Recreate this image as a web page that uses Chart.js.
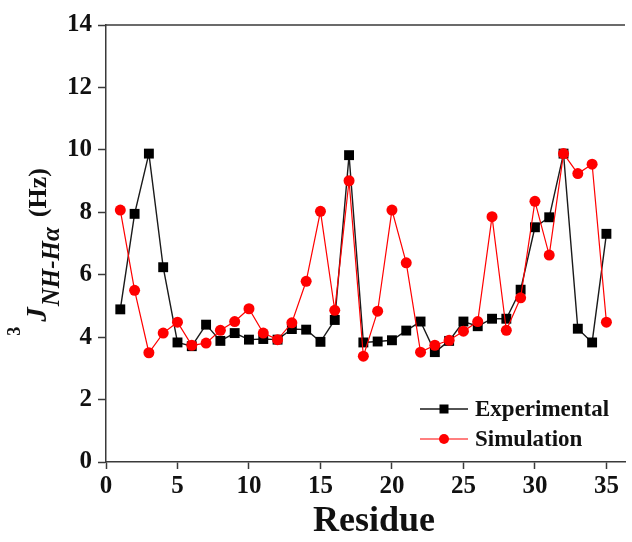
<!DOCTYPE html>
<html>
<head>
<meta charset="utf-8">
<title>3J coupling constants per residue</title>
<script src="https://cdn.jsdelivr.net/npm/chart.js@4.4.1/dist/chart.umd.min.js"></script>
<style>
  html, body { margin: 0; padding: 0; background: #ffffff; }
  #wrap { width: 632px; height: 542px; }
</style>
</head>
<body>
<div id="wrap"><canvas id="chart" width="632" height="542"></canvas></div>
<script>
// Residue numbers along the sequence
const residues = [1, 2, 3, 4, 5, 6, 7, 8, 9, 10, 11, 12, 13, 14, 15, 16, 17, 18,
                  19, 20, 21, 22, 23, 24, 25, 26, 27, 28, 29, 30, 31, 32, 33, 34, 35];

// Measured 3J(NH-Halpha) couplings, Hz
const experimental = [4.89, 7.95, 9.88, 6.24, 3.83, 3.71, 4.40, 3.88, 4.13, 3.92,
                      3.94, 3.92, 4.26, 4.24, 3.85, 4.55, 9.83, 3.83, 3.86, 3.90,
                      4.21, 4.50, 3.52, 3.88, 4.50, 4.35, 4.59, 4.59, 5.52, 7.52,
                      7.84, 9.88, 4.27, 3.83, 7.31];

// Couplings back-calculated from the simulation, Hz
const simulation = [8.07, 5.50, 3.50, 4.13, 4.48, 3.74, 3.81, 4.22, 4.50, 4.91,
                    4.13, 3.92, 4.46, 5.79, 8.03, 4.86, 9.01, 3.39, 4.83, 8.07,
                    6.38, 3.52, 3.74, 3.90, 4.19, 4.50, 7.86, 4.22, 5.26, 8.35,
                    6.63, 9.88, 9.24, 9.54, 4.48];

const xTicks = [0, 5, 10, 15, 20, 25, 30, 35];
const yTicks = [0, 2, 4, 6, 8, 10, 12, 14];

const seriesNames = ['Experimental', 'Simulation'];

const SERIF = "'Liberation Serif', 'Times New Roman', serif";
const AXIS_COLOR = '#3a3a3a';

function toPoints(values) {
  return residues.map((r, i) => ({ x: r, y: values[i] }));
}

// Y-axis title with superscript 3 and italic subscript NH-Halpha, rotated
const axisTitles = {
  id: 'axisTitles',
  afterDraw(chart) {
    const ctx = chart.ctx;
    ctx.save();
    ctx.fillStyle = '#111';
    ctx.textBaseline = 'alphabetic';
    ctx.textAlign = 'left';

    const parts = [
      { t: '3', font: 'bold 18px ' + SERIF, v: 20, gap: 5 },
      { t: 'J', font: 'italic bold 29px ' + SERIF, v: 46, gap: 1 },
      { t: 'NH-H\u03B1', font: 'italic bold 25px ' + SERIF, v: 59, gap: 10 },
      { t: '(Hz)', font: 'bold 26px ' + SERIF, v: 46, gap: 0 }
    ];
    let total = 0;
    parts.forEach(p => { ctx.font = p.font; p.w = ctx.measureText(p.t).width; total += p.w + p.gap; });
    const centerY = 252;
    ctx.translate(0, centerY + total / 2);
    ctx.rotate(-Math.PI / 2);
    let u = 0;
    parts.forEach(p => {
      ctx.font = p.font;
      ctx.fillText(p.t, u, p.v);
      u += p.w + p.gap;
    });
    ctx.restore();

    // X-axis title
    ctx.save();
    ctx.fillStyle = '#111';
    ctx.font = 'bold 36px ' + SERIF;
    ctx.textAlign = 'center';
    ctx.textBaseline = 'alphabetic';
    ctx.fillText('Residue', 374, 531);
    ctx.restore();

    // top frame line
    const a = chart.chartArea;
    ctx.save();
    ctx.strokeStyle = AXIS_COLOR;
    ctx.lineWidth = 1.5;
    ctx.beginPath();
    ctx.moveTo(a.left, a.top);
    ctx.lineTo(a.right, a.top);
    ctx.stroke();
    ctx.restore();
  }
};

// Legend drawn inside the plot area, lower right
const insideLegend = {
  id: 'insideLegend',
  afterDatasetsDraw(chart) {
    const ctx = chart.ctx;
    const rows = [409, 439];
    ctx.save();
    seriesNames.forEach((name, i) => {
      const ds = chart.data.datasets.find(d => d.label === name);
      const y = rows[i];
      ctx.strokeStyle = ds.borderColor;
      ctx.lineWidth = ds.borderWidth;
      ctx.beginPath();
      ctx.moveTo(420, y);
      ctx.lineTo(468, y);
      ctx.stroke();
      ctx.fillStyle = ds.pointBackgroundColor;
      if (ds.pointStyle === 'rect') {
        ctx.fillRect(444 - 4.5, y - 4.5, 9, 9);
      } else {
        ctx.beginPath();
        ctx.arc(444, y, 5, 0, Math.PI * 2);
        ctx.fill();
      }
      ctx.fillStyle = '#111';
      ctx.font = 'bold 23px ' + SERIF;
      ctx.textAlign = 'left';
      ctx.textBaseline = 'middle';
      ctx.fillText(name, 475, y + 1);
    });
    ctx.restore();
  }
};

new Chart(document.getElementById('chart'), {
  type: 'line',
  data: {
    datasets: [
      {
        label: 'Experimental',
        data: toPoints(experimental),
        borderColor: '#1a1a1a',
        borderWidth: 1.4,
        pointStyle: 'rect',
        pointRadius: 7,
        pointBackgroundColor: '#000000',
        pointBorderColor: '#000000',
        pointBorderWidth: 0,
        tension: 0,
        order: 1
      },
      {
        label: 'Simulation',
        data: toPoints(simulation),
        borderColor: '#ff0000',
        borderWidth: 1.2,
        pointStyle: 'circle',
        pointRadius: 5.5,
        pointBackgroundColor: '#ff0000',
        pointBorderColor: '#ff0000',
        pointBorderWidth: 0,
        tension: 0,
        order: 0
      }
    ]
  },
  options: {
    responsive: false,
    animation: false,
    devicePixelRatio: 1,
    layout: { padding: { left: 0, top: 25, right: 0, bottom: 0 } },
    plugins: {
      legend: { display: false },
      tooltip: { enabled: false },
      title: { display: false }
    },
    scales: {
      x: {
        type: 'linear',
        min: 0,
        max: 36.3,
        afterBuildTicks(scale) {
          scale.ticks = xTicks.map(v => ({ value: v }));
        },
        afterFit(scale) { scale.height = 80; },
        grid: {
          display: true,
          drawOnChartArea: false,
          drawTicks: true,
          tickLength: 7,
          tickWidth: 1.5,
          tickColor: AXIS_COLOR
        },
        border: { display: true, color: AXIS_COLOR, width: 1.5 },
        ticks: {
          padding: 3,
          maxRotation: 0,
          autoSkip: false,
          color: '#111',
          font: { family: SERIF, size: 25, weight: 'bold' }
        }
      },
      y: {
        type: 'linear',
        min: 0,
        max: 14,
        afterBuildTicks(scale) {
          scale.ticks = yTicks.map(v => ({ value: v }));
        },
        afterFit(scale) { scale.width = 106; },
        grid: {
          display: true,
          drawOnChartArea: false,
          drawTicks: true,
          tickLength: 8,
          tickWidth: 1.5,
          tickColor: AXIS_COLOR
        },
        border: { display: true, color: AXIS_COLOR, width: 1.5 },
        ticks: {
          padding: 6,
          color: '#111',
          font: { family: SERIF, size: 25, weight: 'bold' }
        }
      }
    }
  },
  plugins: [axisTitles, insideLegend]
});
</script>
</body>
</html>
